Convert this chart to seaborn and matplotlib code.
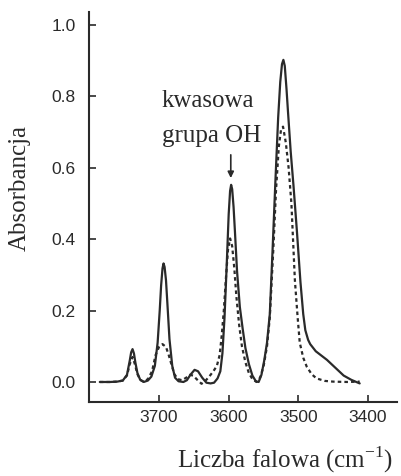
import pandas as pd
import matplotlib.pyplot as plt
import seaborn as sns

# IR spectrum: wavenumber (cm-1) and absorbance
solid_wn = [3785, 3770, 3760, 3752, 3746, 3742, 3740, 3738, 3736, 3734, 3731, 3727,
            3722, 3716, 3711, 3706, 3702, 3699, 3697, 3695, 3693.5, 3692, 3690, 3688,
            3685, 3681, 3677, 3672, 3665, 3660, 3655, 3649, 3644, 3638,
            3632, 3626, 3621, 3616, 3612, 3609, 3606, 3603, 3600, 3598, 3596.5,
            3595, 3593, 3591, 3588, 3584, 3580, 3576, 3571, 3566, 3561, 3557,
            3553, 3549, 3545, 3541, 3537, 3533, 3529, 3526, 3523.5, 3521.5, 3519.5,
            3517, 3515, 3511, 3507, 3502, 3497, 3493, 3490, 3486, 3483, 3475,
            3467, 3459, 3447, 3435, 3424, 3412]
solid_abs = [0.000, 0.000, 0.001, 0.004, 0.020, 0.060, 0.083, 0.092, 0.080, 0.055, 0.025, 0.006,
             0.000, 0.004, 0.015, 0.045, 0.110, 0.200, 0.270, 0.318, 0.332, 0.322, 0.285, 0.220,
             0.120, 0.045, 0.012, 0.002, 0.000, 0.005, 0.020, 0.034, 0.030, 0.012,
             -0.002, -0.004, -0.002, 0.010, 0.030, 0.080, 0.180, 0.320, 0.470, 0.535, 0.552,
             0.540, 0.490, 0.420, 0.310, 0.210, 0.150, 0.095, 0.050, 0.018, 0.002, 0.000,
             0.020, 0.060, 0.110, 0.190, 0.370, 0.560, 0.740, 0.840, 0.890, 0.902, 0.885,
             0.820, 0.760, 0.645, 0.550, 0.420, 0.280, 0.190, 0.145, 0.118, 0.106, 0.086,
             0.074, 0.062, 0.040, 0.018, 0.006, -0.004]

dashed_wn = [3785, 3770, 3760, 3752, 3746, 3742, 3738, 3735, 3731, 3727,
             3722, 3716, 3710, 3705, 3700, 3695, 3690, 3686, 3682, 3678,
             3673, 3667, 3661, 3656, 3651, 3645, 3639, 3634, 3628, 3622,
             3617, 3613, 3610, 3607, 3604, 3601, 3598, 3595, 3592, 3589,
             3585, 3581, 3576, 3571, 3566, 3560, 3555, 3550, 3545, 3541,
             3536, 3532, 3528, 3525, 3522, 3518, 3514, 3510, 3505, 3501,
             3498, 3493, 3488, 3481, 3474, 3462, 3450, 3430, 3412]
dashed_abs = [0.000, 0.000, 0.001, 0.004, 0.018, 0.050, 0.070, 0.052, 0.022, 0.006,
              0.001, 0.008, 0.030, 0.075, 0.098, 0.106, 0.098, 0.075, 0.048, 0.022,
              0.008, 0.005, 0.012, 0.020, 0.018, 0.006, -0.005, 0.002, 0.015, 0.030,
              0.045, 0.075, 0.130, 0.200, 0.290, 0.370, 0.402, 0.380, 0.320, 0.240,
              0.160, 0.100, 0.055, 0.025, 0.008, 0.000, 0.012, 0.043, 0.100, 0.180,
              0.370, 0.540, 0.660, 0.705, 0.715, 0.670, 0.600, 0.500, 0.285, 0.180,
              0.110, 0.068, 0.043, 0.022, 0.010, 0.003, 0.001, 0.000, 0.001]

x_ticks = [3700, 3600, 3500, 3400]
y_ticks = [0.0, 0.2, 0.4, 0.6, 0.8, 1.0]
y_tick_labels = ['0.0', '0.2', '0.4', '0.6', '0.8', '1.0']

solid = pd.DataFrame({'wn': solid_wn, 'A': solid_abs})
dashed = pd.DataFrame({'wn': dashed_wn, 'A': dashed_abs})

sns.set_style('ticks')
plt.rcParams['font.family'] = ['Liberation Sans', 'DejaVu Sans']
serif = ['Liberation Serif', 'DejaVu Serif']
ink = '#2a2a2a'

fig = plt.figure(figsize=(4.02, 4.76), dpi=100)
ax = fig.add_axes([0.2214, 0.1555, 0.7662, 0.8193])

sns.lineplot(data=solid, x='wn', y='A', ax=ax, color=ink, lw=1.6, sort=False)
sns.lineplot(data=dashed, x='wn', y='A', ax=ax, color=ink, lw=1.6,
             linestyle=(0, (1.6, 1.4)), sort=False)

ax.set_xlim(3800.5, 3358.4)
ax.set_ylim(-0.056, 1.036)
ax.set_xticks(x_ticks)
ax.set_yticks(y_ticks)
ax.set_yticklabels(y_tick_labels)
sns.despine(ax=ax)
for side in ['left', 'bottom']:
    ax.spines[side].set_linewidth(1.5)
    ax.spines[side].set_color(ink)
ax.tick_params(direction='in', length=5, width=1.2, colors=ink, labelsize=12.5)
ax.tick_params(axis='x', pad=6)
ax.tick_params(axis='y', pad=9.5)

ax.set_xlabel(r'Liczba falowa (cm$^{\mathregular{-1}}$)', family=serif, fontsize=18, color=ink, ha='right')
ax.xaxis.set_label_coords(0.987, -0.110)
ax.set_ylabel('Absorbancja', family=serif, fontsize=18, color=ink)
ax.yaxis.set_label_coords(-0.19, 0.549)

ax.text(3696, 0.770, 'kwasowa', family=serif, fontsize=18, color=ink, va='baseline')
ax.text(3696, 0.673, 'grupa OH', family=serif, fontsize=18, color=ink, va='baseline')
ax.annotate('', xy=(3597, 0.571), xytext=(3597, 0.636),
            arrowprops=dict(arrowstyle='-|>', color=ink, lw=1.2, mutation_scale=9,
                            shrinkA=0, shrinkB=0))

plt.savefig('out.png', dpi=100)
